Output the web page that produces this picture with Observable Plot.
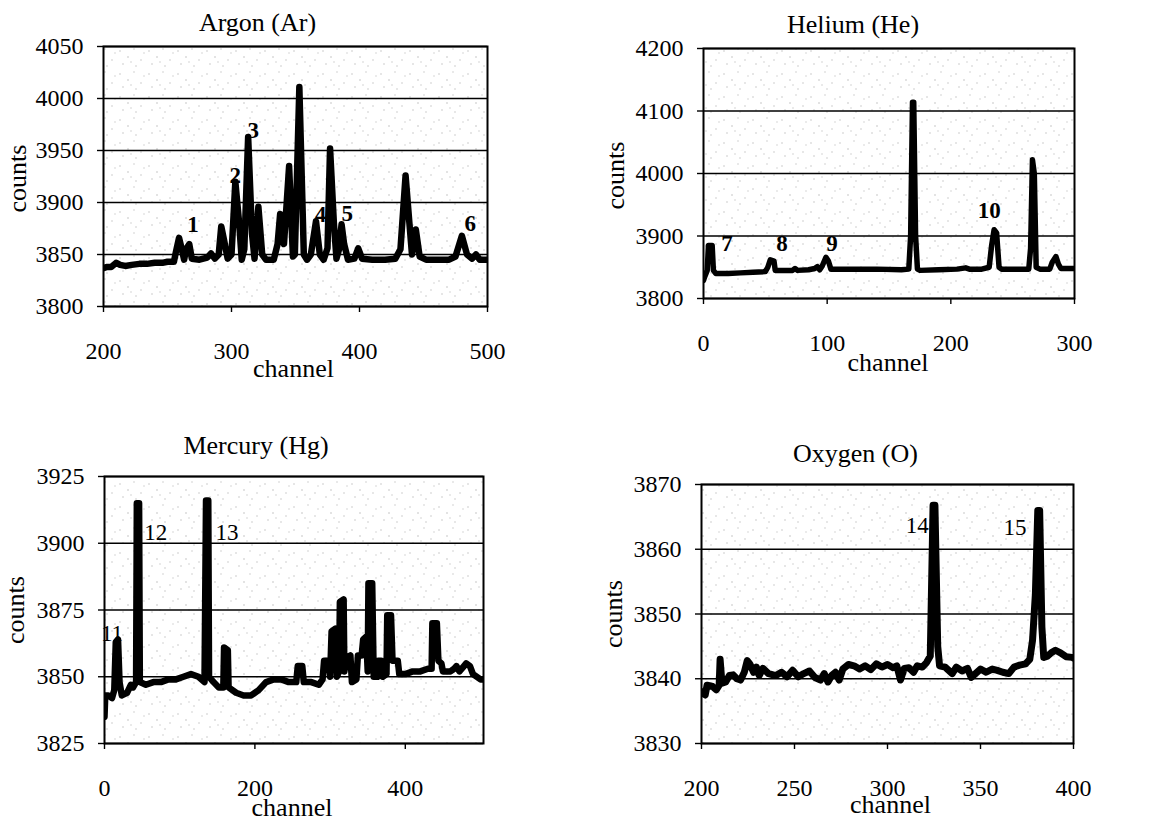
<!DOCTYPE html>
<html>
<head>
<meta charset="utf-8">
<script src="https://cdn.jsdelivr.net/npm/d3@7"></script>
<script src="https://cdn.jsdelivr.net/npm/@observablehq/plot@0.6"></script>
<style>
  html, body { margin: 0; padding: 0; background: #fff; }
  #wrap { position: relative; width: 1151px; height: 822px; overflow: hidden; }
  .panel { position: absolute; }
  .panel svg, .panel svg text { font-family: 'Liberation Serif', 'Times New Roman', serif !important; }
</style>
</head>
<body>
<svg width="0" height="0" style="position:absolute">
  <defs>
    <pattern id="stip" width="29" height="23" patternUnits="userSpaceOnUse">
      <rect width="29" height="23" fill="#ffffff"/>
      <rect x="3" y="4" width="1" height="1" fill="#9a9a9a"/>
      <rect x="17" y="2" width="1" height="1" fill="#a5a5a5"/>
      <rect x="11" y="10" width="1" height="1" fill="#8f8f8f"/>
      <rect x="24" y="13" width="1" height="1" fill="#a0a0a0"/>
      <rect x="6" y="17" width="1" height="1" fill="#999999"/>
      <rect x="19" y="19" width="1" height="1" fill="#9d9d9d"/>
      <rect x="27" y="6" width="1" height="1" fill="#b0b0b0"/>
      <rect x="14" y="15" width="1" height="1" fill="#aaaaaa"/>
    </pattern>
  </defs>
</svg>
<div id="wrap"></div>
<script>
// ---------------- DATA ----------------
const panelTitles = ["Argon (Ar)", "Helium (He)", "Mercury (Hg)", "Oxygen (O)"];
const xLabel = "channel";
const yLabel = "counts";

// Argon
const argonChannel = [200,203,206,210,213,217,222,228,234,240,246,250,255,256.5,259,261,263,264.5,267,269,275,281,284,287,290,292,294,297,300,303,306,308,310,313,316,318,321,324,327,333,336,338,341,345,348,349.5,353,356.5,359,362,366,369,372,375,377,380,382,384,386,388,391,396,399,402,410,420,428,432,436,439,441,444,447,452,460,470,475,480,484,488,491,494,500];
const argonCounts  = [3837,3838,3838,3842,3840,3839,3840,3841,3841,3842,3842,3843,3843,3852,3866,3856,3845,3855,3860,3846,3845,3847,3851,3846,3850,3877,3865,3846,3850,3920,3880,3845,3855,3963,3870,3846,3896,3850,3845,3845,3860,3889,3860,3935,3848,3850,4011,3850,3845,3850,3882,3850,3845,3856,3952,3880,3846,3855,3879,3860,3845,3846,3856,3846,3845,3845,3846,3855,3926,3880,3850,3874,3848,3845,3845,3845,3848,3868,3850,3846,3850,3845,3845];
const argonXTicks = [200, 300, 400, 500];
const argonYTicks = [3800, 3850, 3900, 3950, 4000, 4050];
const argonPeakNames = ["1","2","3","4","5","6"];
const argonPeakX = [270, 303, 317, 369.5, 390.5, 486.5];
const argonPeakY = [3879, 3926, 3969, 3888, 3889, 3880];

// Helium
const heliumChannel = [0,1,3,4,7,8,10,20,30,40,50,52,54,57,58,65,72,74,76,85,90,92,94,96,99,101,103,110,120,140,160,166,167.5,169,170,171.5,173,175,190,205,212,215,225,231,233,235,237,239,241,255,263,264.5,266,267.5,269,272,280,282,285,287,289,300];
const heliumCounts  = [3829,3835,3845,3885,3885,3845,3840,3840,3841,3842,3843,3850,3862,3860,3845,3845,3845,3848,3845,3846,3848,3851,3846,3852,3866,3860,3847,3847,3847,3847,3846,3847,3900,4114,4114,3900,3847,3845,3846,3847,3849,3847,3847,3850,3885,3910,3905,3850,3847,3847,3847,3880,4022,4000,3850,3847,3847,3858,3867,3855,3848,3848];
const heliumXTicks = [0, 100, 200, 300];
const heliumYTicks = [3800, 3900, 4000, 4100, 4200];
const heliumPeakNames = ["7","8","9","10"];
const heliumPeakX = [19, 63.5, 104, 231];
const heliumPeakY = [3888, 3888, 3888, 3941];

// Mercury
const mercuryChannel = [0,1,5,10,13,15,18,20,23,30,35,38,42,43,46,47,55,65,75,85,95,105,115,125,133,135,138,139,145,152,158,159,164,165,175,185,195,205,215,225,235,245,255,257,263,265,275,285,290,292,298,300,302,307,309,312,313,318,319,322,327,329,335,337,342,344,348,350,351,356,358,363,364,368,370,375,376,381,383,390,392,400,410,420,430,435,436,442,444,448,450,460,465,468,472,478,481,486,490,500,504];
const mercuryCounts  = [3835,3843,3843,3842,3845,3863,3864,3848,3843,3844,3847,3846,3848,3915,3915,3848,3847,3848,3848,3849,3849,3850,3851,3850,3848,3916,3916,3850,3848,3846,3846,3861,3860,3846,3844,3843,3843,3845,3848,3849,3849,3848,3848,3854,3854,3848,3848,3847,3849,3856,3856,3850,3867,3868,3850,3852,3878,3879,3852,3857,3858,3848,3849,3858,3858,3864,3865,3852,3885,3885,3850,3850,3856,3856,3850,3851,3873,3873,3856,3856,3851,3851,3852,3852,3853,3853,3870,3870,3856,3855,3852,3852,3853,3854,3852,3854,3855,3854,3851,3849,3849];
const mercuryXTicks = [0, 200, 400];
const mercuryYTicks = [3825, 3850, 3875, 3900, 3925];
const mercuryPeakNames = ["11","12","13"];
const mercuryPeakX = [10, 68, 163];
const mercuryPeakY = [3866, 3904, 3904];

// Oxygen
const oxygenChannel = [200,202,203,206,208,209.5,210,211,213,215,217,219,221,223,224.6,226,228,229.5,231,233,236,240,243,246,249,252,255,258,261,264,266,268,270,272,274,276,279,282,285,288,291,294,297,300,303,305,307,309,311.5,314,316,318.7,321,323,324.5,325.5,327,328,331,334.8,337,340,343,345,347.3,350,353,356.3,359,362,365.2,368,371,374.2,376.5,378,379.5,380.8,381.8,383,384,386,388,390.3,393,396,399.3,400];
const oxygenCounts  = [3838,3837.5,3839,3838.8,3838.3,3839,3843,3839.3,3839.5,3840.5,3840.6,3840,3839.8,3841,3842.8,3842.3,3841,3841.8,3840.5,3841.6,3840.8,3840.5,3841,3840.3,3841.3,3840.3,3840.8,3841.2,3840.2,3839.8,3840.8,3839.5,3840.5,3841,3839.8,3841.5,3842.2,3842,3841.5,3842,3841.4,3842.3,3841.8,3842.2,3841.7,3842,3839.8,3841.6,3841.7,3841,3842,3841.8,3842.5,3843.5,3866.8,3866.8,3845,3842,3841.8,3840.8,3841.8,3841.2,3841.6,3840.2,3840.8,3841.5,3841,3841.5,3841.3,3841,3840.8,3841.8,3842.1,3842.3,3843,3846,3853,3866,3866,3848,3843.3,3843.5,3844,3844.4,3844,3843.4,3843.3,3843.2];
const oxygenXTicks = [200, 250, 300, 350, 400];
const oxygenYTicks = [3830, 3840, 3850, 3860, 3870];
const oxygenPeakNames = ["14","15"];
const oxygenPeakX = [316, 368.5];
const oxygenPeakY = [3863.7, 3863.4];

// ---------------- BUILD ----------------
const toRows = (xs, ys) => xs.map((x, i) => ({channel: x, counts: ys[i]}));
const toLabels = (ns, xs, ys) => ns.map((n, i) => ({name: n, channel: xs[i], counts: ys[i]}));

const FONT = "'Liberation Serif', 'Times New Roman', serif";

function panel(cfg) {
  const rows = toRows(cfg.xs, cfg.ys);
  const labels = toLabels(cfg.pn, cfg.px, cfg.py);
  return Plot.plot({
    width: cfg.width,
    height: cfg.height,
    marginTop: cfg.m[0],
    marginRight: cfg.m[1],
    marginBottom: cfg.m[2],
    marginLeft: cfg.m[3],
    style: {fontFamily: FONT, color: "black", background: "transparent", overflow: "visible"},
    x: {domain: cfg.xDomain, ticks: cfg.xTicks},
    y: {domain: cfg.yDomain, ticks: cfg.yTicks},
    marks: [
      Plot.frame({fill: "url(#stip)"}),
      Plot.ruleY(cfg.yTicks, {stroke: "black", strokeWidth: 1.4}),
      Plot.axisY({ticks: cfg.yTicks, tickSize: 6, tickPadding: 14, fontSize: 24, fontFamily: FONT, stroke: "black", fill: "black", strokeWidth: 1.4, label: null, tickFormat: d => String(d)}),
      Plot.axisX({ticks: cfg.xTicks, tickSize: 6, tickPadding: 29, fontSize: 24, fontFamily: FONT, stroke: "black", fill: "black", strokeWidth: 1.4, label: null, tickFormat: d => String(d)}),
      Plot.line(rows, {x: "channel", y: "counts", stroke: "black", strokeWidth: cfg.lw, strokeLinejoin: "round", clip: true}),
      Plot.frame({stroke: "black", strokeWidth: 2}),
      Plot.text(labels, {x: "channel", y: "counts", text: "name", fontSize: 23, fontFamily: FONT, fontWeight: cfg.bold ? "bold" : "normal", fill: "black"}),
      Plot.text([cfg.title], {frameAnchor: "top", lineAnchor: "middle", textAnchor: "middle", text: d => d, dy: cfg.titleDy, dx: cfg.titleDx, fontSize: 26, fontFamily: FONT, fill: "black"}),
      Plot.text([xLabel], {frameAnchor: "bottom", lineAnchor: "middle", textAnchor: "middle", text: d => d, dy: cfg.xlDy, dx: cfg.xlDx, fontSize: 26, fontFamily: FONT, fill: "black"}),
      Plot.text([yLabel], {frameAnchor: "left", lineAnchor: "middle", textAnchor: "middle", text: d => d, dx: cfg.ylDx, dy: cfg.ylDy, rotate: -90, fontSize: 26, fontFamily: FONT, fill: "black"})
    ]
  });
}

const configs = [
  {left: 0, top: 0, width: 575, height: 410, m: [46, 88, 104, 103], xDomain: [200, 500], yDomain: [3800, 4050],
   xs: argonChannel, ys: argonCounts, xTicks: argonXTicks, yTicks: argonYTicks, pn: argonPeakNames, px: argonPeakX, py: argonPeakY,
   title: panelTitles[0], titleDx: -38, titleDy: -24, xlDx: -2, xlDy: 62, ylDx: -86, ylDy: 2, lw: 6.5, bold: true},
  {left: 575, top: 0, width: 576, height: 410, m: [48, 77, 112, 128], xDomain: [0, 300], yDomain: [3800, 4200],
   xs: heliumChannel, ys: heliumCounts, xTicks: heliumXTicks, yTicks: heliumYTicks, pn: heliumPeakNames, px: heliumPeakX, py: heliumPeakY,
   title: panelTitles[1], titleDx: -36, titleDy: -24, xlDx: -1, xlDy: 64, ylDx: -88, ylDy: 2, lw: 5.5, bold: true},
  {left: 0, top: 410, width: 575, height: 412, m: [66, 92, 79, 104], xDomain: [0, 504], yDomain: [3825, 3925],
   xs: mercuryChannel, ys: mercuryCounts, xTicks: mercuryXTicks, yTicks: mercuryYTicks, pn: mercuryPeakNames, px: mercuryPeakX, py: mercuryPeakY,
   title: panelTitles[2], titleDx: -38, titleDy: -31, xlDx: -2, xlDy: 64, ylDx: -89, ylDy: 0, lw: 6.5, bold: false},
  {left: 575, top: 410, width: 576, height: 412, m: [74, 78, 79, 126], xDomain: [200, 400], yDomain: [3830, 3870],
   xs: oxygenChannel, ys: oxygenCounts, xTicks: oxygenXTicks, yTicks: oxygenYTicks, pn: oxygenPeakNames, px: oxygenPeakX, py: oxygenPeakY,
   title: panelTitles[3], titleDx: -32, titleDy: -31, xlDx: 3, xlDy: 61, ylDx: -88, ylDy: 0, lw: 7, bold: false}
];

const wrap = document.getElementById("wrap");
for (const cfg of configs) {
  const div = document.createElement("div");
  div.className = "panel";
  div.style.left = cfg.left + "px";
  div.style.top = cfg.top + "px";
  div.appendChild(panel(cfg));
  wrap.appendChild(div);
}
</script>
</body>
</html>
